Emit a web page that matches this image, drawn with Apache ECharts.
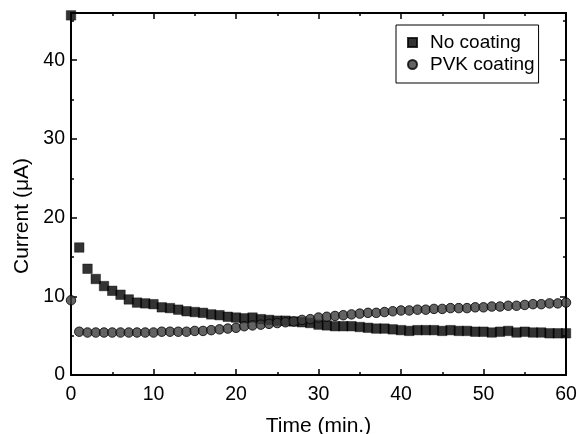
<!DOCTYPE html>
<html>
<head>
<meta charset="utf-8">
<script src="https://cdn.jsdelivr.net/npm/echarts@6/dist/echarts.min.js"></script>
<style>
  html, body { margin: 0; padding: 0; background: #fff; }
  #chart { width: 577px; height: 434px; }
</style>
</head>
<body>
<div id="chart"></div>
<script>
// Sampling times (min.)
const times = [
  0, 1, 2, 3, 4, 5, 6, 7, 8, 9,
  10, 11, 12, 13, 14, 15, 16, 17, 18, 19,
  20, 21, 22, 23, 24, 25, 26, 27, 28, 29,
  30, 31, 32, 33, 34, 35, 36, 37, 38, 39,
  40, 41, 42, 43, 44, 45, 46, 47, 48, 49,
  50, 51, 52, 53, 54, 55, 56, 57, 58, 59,
  60
];

// Current (µA) without coating
const noCoating = [
  45.7, 16.2, 13.5, 12.2, 11.3, 10.7, 10.2, 9.6, 9.2, 9.1,
  9.0, 8.6, 8.5, 8.3, 8.1, 8.0, 7.9, 7.7, 7.6, 7.4,
  7.3, 7.2, 7.3, 7.1, 7.0, 6.9, 6.9, 6.8, 6.7, 6.6,
  6.4, 6.3, 6.2, 6.2, 6.2, 6.1, 6.0, 5.9, 5.9, 5.8,
  5.7, 5.6, 5.7, 5.7, 5.7, 5.6, 5.7, 5.6, 5.6, 5.5,
  5.5, 5.4, 5.5, 5.6, 5.4, 5.5, 5.4, 5.4, 5.3, 5.3,
  5.3
];

// Current (µA) with PVK coating
const pvkCoating = [
  9.5, 5.5, 5.4, 5.4, 5.4, 5.4, 5.4, 5.4, 5.4, 5.4,
  5.4, 5.5, 5.5, 5.5, 5.5, 5.6, 5.6, 5.7, 5.8, 5.9,
  6.0, 6.2, 6.3, 6.4, 6.5, 6.6, 6.7, 6.8, 7.0, 7.1,
  7.3, 7.4, 7.5, 7.6, 7.7, 7.8, 7.9, 7.9, 8.0, 8.1,
  8.2, 8.2, 8.3, 8.3, 8.4, 8.4, 8.5, 8.5, 8.5, 8.6,
  8.6, 8.7, 8.7, 8.8, 8.8, 8.9, 9.0, 9.0, 9.1, 9.1,
  9.2
];

const seriesNames = ['No coating', 'PVK coating'];
const xTitle = 'Time (min.)';
const yTitle = 'Current (\u03bcA)';

const pairs = (ys) => times.map((t, i) => [t, ys[i]]);

const FONT = '"Liberation Sans", Arial, Helvetica, sans-serif';
const INK = '#000';

const frameAxis = {
  axisLine: { show: true, onZero: false, lineStyle: { color: INK, width: 2 } },
  axisTick: { show: true, inside: true, length: 6, lineStyle: { color: INK, width: 1.5 } },
  minorTick: { show: true, splitNumber: 2, length: 3, lineStyle: { color: INK, width: 1.5 } },
  splitLine: { show: false },
  minorSplitLine: { show: false }
};

const chart = echarts.init(document.getElementById('chart'), null, { renderer: 'canvas' });

chart.setOption({
  animation: false,
  backgroundColor: '#fff',
  textStyle: { fontFamily: FONT },
  grid: { left: 71, right: 11, top: 13, bottom: 59, containLabel: false, outerBoundsMode: 'none' },
  legend: {
    orient: 'vertical',
    left: 396,
    top: 25,
    itemWidth: 9,
    itemHeight: 9,
    itemGap: 3,
    padding: [8, 4, 9, 11],
    borderColor: INK,
    borderWidth: 1,
    backgroundColor: '#fff',
    textStyle: { fontSize: 19, color: INK, fontFamily: FONT, padding: [0, 0, 0, 8] },
    data: [
      { name: seriesNames[0], icon: 'rect' },
      { name: seriesNames[1], icon: 'circle' }
    ]
  },
  xAxis: [
    Object.assign({
      type: 'value', position: 'bottom', min: 0, max: 60, interval: 10,
      name: xTitle, nameLocation: 'middle', nameGap: 41,
      nameTextStyle: { fontSize: 21, color: INK, fontFamily: FONT },
      axisLabel: { fontSize: 19.5, color: INK, margin: 10, fontFamily: FONT }
    }, frameAxis),
    Object.assign({
      type: 'value', position: 'top', min: 0, max: 60, interval: 10,
      axisLabel: { show: false }
    }, frameAxis)
  ],
  yAxis: [
    Object.assign({
      type: 'value', position: 'left', min: 0, max: 46, interval: 10,
      name: yTitle, nameLocation: 'middle', nameGap: 38, nameRotate: 90,
      nameTextStyle: { fontSize: 21, color: INK, fontFamily: FONT, padding: [0, 44, 0, 0] },
      axisLabel: {
        fontSize: 19.5, color: INK, margin: 6, fontFamily: FONT,
        formatter: (v) => (v % 10 === 0 ? String(v) : '')
      }
    }, frameAxis),
    Object.assign({
      type: 'value', position: 'right', min: 0, max: 46, interval: 10,
      axisLabel: { show: false }
    }, frameAxis)
  ],
  series: [
    {
      name: seriesNames[0],
      type: 'scatter',
      symbol: 'rect',
      symbolSize: 9.5,
      itemStyle: { color: '#000', borderColor: '#000', borderWidth: 0.5 },
      data: pairs(noCoating)
    },
    {
      name: seriesNames[1],
      type: 'scatter',
      symbol: 'circle',
      symbolSize: 9.5,
      itemStyle: { color: '#3c3c3c', borderColor: '#000', borderWidth: 1 },
      data: pairs(pvkCoating)
    }
  ]
});
</script>
</body>
</html>
